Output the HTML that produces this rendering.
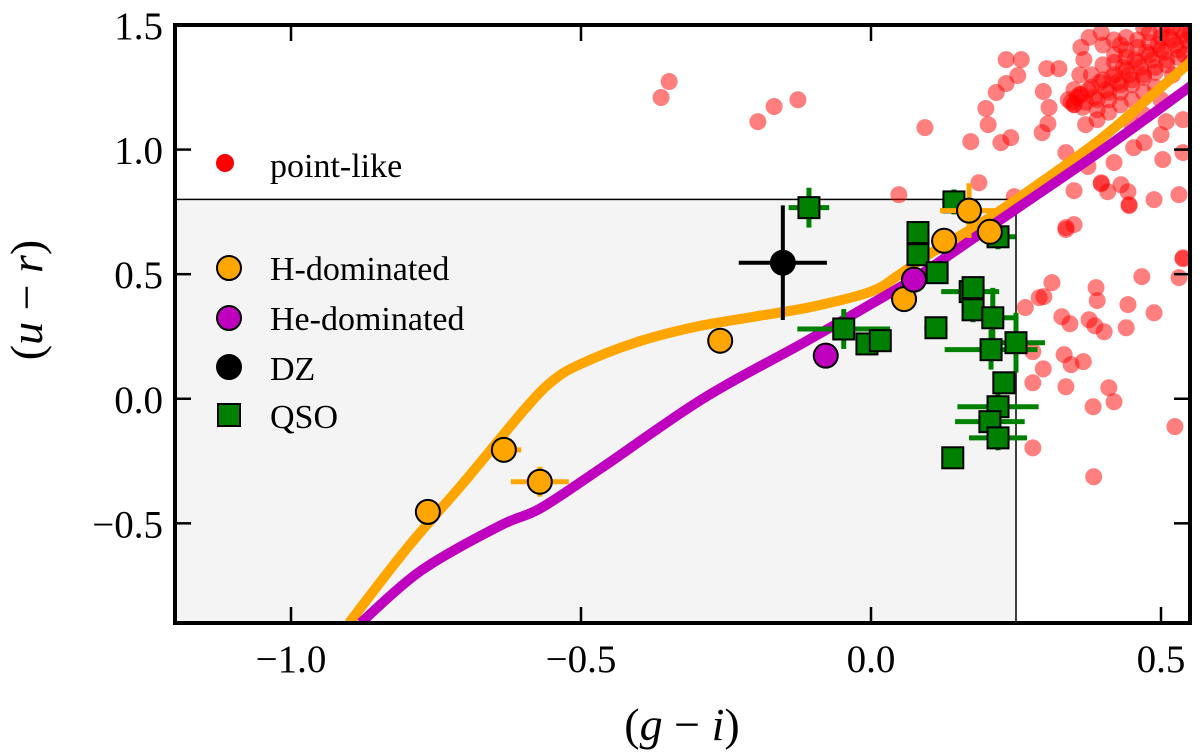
<!DOCTYPE html>
<html><head><meta charset="utf-8">
<style>
html,body{margin:0;padding:0;background:#fff;}
svg{display:block;}
text{font-family:"Liberation Serif","DejaVu Serif",serif;}
</style></head>
<body>
<svg id="chart" width="1200" height="754" viewBox="0 0 1200 754" xmlns="http://www.w3.org/2000/svg">
<defs><clipPath id="clip"><rect x="175" y="25" width="1015" height="598"/></clipPath></defs>
<g id="plot" clip-path="url(#clip)"></g>
<g id="axes"></g>
<g id="legend"></g>
</svg>
<script>
const xTicks=[-1.0,-0.5,0.0,0.5];
const xTickLabels=["\u22121.0","\u22120.5","0.0","0.5"];
const yTicks=[-0.5,0.0,0.5,1.0,1.5];
const yTickLabels=["\u22120.5","0.0","0.5","1.0","1.5"];
const hCurveX=[-0.9,-0.8,-0.7,-0.6,-0.55,-0.5,-0.4,-0.3,-0.2,-0.1,0.0,0.05,0.1,0.2,0.3,0.4,0.5,0.56];
const hCurveY=[-0.9,-0.6,-0.33,-0.05,0.07,0.14,0.23,0.29,0.33,0.37,0.43,0.5,0.58,0.72,0.88,1.05,1.25,1.37];
const heCurveX=[-0.88,-0.776,-0.64,-0.57,-0.466,-0.29,-0.12,0.0,0.086,0.224,0.4,0.56];
const heCurveY=[-0.9,-0.69,-0.51,-0.44,-0.28,0.0,0.22,0.38,0.5,0.72,1.0,1.27];
const pointLikeX=[0.35,0.397,0.408,0.431,0.443,0.445,0.488,0.531,0.336,0.35,0.538,0.467,0.531,0.312,0.298,0.29,0.388,0.39,0.443,0.488,0.266,0.329,0.343,0.376,0.386,0.402,0.44,0.279,0.333,0.345,0.366,0.297,0.279,0.336,0.41,0.419,0.383,0.524,0.279,0.384,
-0.348,-0.362,-0.195,-0.167,-0.126,0.093,0.048,0.172,0.186,0.198,0.202,0.216,0.224,0.241,0.233,0.259,0.233,0.253,0.247,0.295,0.297,0.303,0.324,0.307,0.305,0.336,0.336,0.374,0.397,0.419,0.445,0.453,0.471,0.503,0.5,0.509,0.538,0.538,0.538,0.362,0.35,0.376,0.397,0.362,0.419,0.367,
0.34,0.35,0.36,0.37,0.38,0.39,0.4,0.41,0.42,0.43,0.44,0.45,0.46,0.47,0.48,0.49,0.5,0.51,0.52,0.53,0.54,0.38,0.4,0.42,0.44,0.46,0.48,0.5,0.43,0.45,0.47,0.49,0.41,0.39,0.37,0.35,0.44,0.52,0.54,0.36,0.4,0.45,0.47,0.5,0.52,
0.345,0.355,0.365,0.375,0.385,0.395,0.405,0.415,0.425,0.435,0.445,0.455,0.465,0.475,0.485,0.495,0.505,0.515,0.525,0.535,0.545,0.39,0.41,0.43,0.45,0.47,0.49,0.51,0.53,0.42,0.44,0.46,0.48,0.5,0.43,0.47,0.51,0.55,0.55,0.55];
const pointLikeY=[0.835,0.863,0.831,0.859,0.831,0.775,0.799,0.819,0.679,0.699,0.562,0.49,0.486,0.466,0.41,0.406,0.446,0.394,0.378,0.345,0.366,0.329,0.301,0.317,0.293,0.269,0.285,0.189,0.177,0.137,0.149,0.12,0.064,0.048,0.044,-0.012,-0.032,-0.112,-0.197,-0.313,
1.273,1.209,1.112,1.173,1.2,1.088,0.819,1.032,0.867,1.165,1.1,1.229,1.028,1.048,1.361,1.361,1.265,1.297,0.811,1.068,1.233,1.325,1.325,1.169,1.104,0.988,0.687,0.932,0.867,0.948,0.779,1.008,1.028,0.96,1.06,1.112,1.12,0.988,0.566,1.221,1.181,1.45,1.47,1.41,1.44,1.361,
1.2,1.18,1.22,1.19,1.25,1.2,1.28,1.23,1.3,1.26,1.32,1.28,1.35,1.3,1.38,1.33,1.4,1.36,1.44,1.4,1.46,1.3,1.34,1.38,1.4,1.44,1.47,1.48,1.18,1.2,1.23,1.25,1.15,1.12,1.1,1.24,1.45,1.49,1.38,1.3,1.42,1.1,1.14,1.2,1.3,
1.19,1.21,1.17,1.24,1.21,1.27,1.24,1.29,1.27,1.33,1.3,1.36,1.33,1.39,1.36,1.42,1.39,1.45,1.42,1.48,1.44,1.16,1.2,1.23,1.26,1.29,1.31,1.34,1.37,1.35,1.37,1.41,1.43,1.45,1.42,1.49,1.5,1.47,1.42,1.35];
const qsoX=[-0.107,0.143,0.081,0.081,0.114,0.171,0.176,0.176,0.21,-0.047,-0.007,0.016,0.112,0.207,0.25,0.229,0.219,0.205,0.219,0.141,0.219];
const qsoY=[0.767,0.79,0.667,0.578,0.506,0.43,0.446,0.357,0.325,0.28,0.22,0.233,0.285,0.197,0.225,0.064,-0.032,-0.092,-0.157,-0.237,0.65];
const qsoXerr=[0.035,0.02,0.0,0.0,0.0,0.05,0.0,0.0,0.04,0.08,0.0,0.0,0.02,0.08,0.05,0.0,0.07,0.06,0.05,0.0,0.03];
const qsoYerr=[0.08,0.05,0.0,0.0,0.0,0.05,0.0,0.05,0.12,0.08,0.0,0.0,0.04,0.08,0.12,0.0,0.08,0.0,0.05,0.0,0.05];
const hX=[-0.764,-0.633,-0.571,-0.26,0.057,0.126,0.169,0.205];
const hY=[-0.454,-0.205,-0.333,0.233,0.40,0.634,0.755,0.67];
const hXerr=[0,0.03,0.05,0,0,0,0.05,0];
const hYerr=[0,0.03,0.06,0,0,0,0.11,0];
const heX=[-0.078,0.074];
const heY=[0.173,0.478];
const dzX=[-0.152];
const dzY=[0.546];
const dzXerr=[0.076];
const dzYerr=[0.23];

const NS="http://www.w3.org/2000/svg";
const X0=175,X1=1190,Y0=623,Y1=25,XMIN=-1.2,XMAX=0.55,YMIN=-0.9,YMAX=1.5;
const sx=v=>X0+(v-XMIN)/(XMAX-XMIN)*(X1-X0);
const sy=v=>Y0-(v-YMIN)/(YMAX-YMIN)*(Y0-Y1);
function mk(tag,attrs,parent){const e=document.createElementNS(NS,tag);for(const k in attrs)e.setAttribute(k,attrs[k]);parent.appendChild(e);return e;}
const plot=document.getElementById('plot'),axes=document.getElementById('axes');

let r=mk('rect',{x:X0,y:sy(0.8),width:sx(0.25)-X0,height:Y0-sy(0.8),fill:'#f4f4f4',stroke:'#000','stroke-width':1.5},plot);



for(let i=0;i<pointLikeX.length;i++){
 const c=mk('circle',{cx:sx(pointLikeX[i]),cy:sy(pointLikeY[i]),r:8.5,fill:'#ff0000','fill-opacity':0.5},plot);
 
 
}
function smoothPath(xs,ys){
 const P=xs.map((x,i)=>[sx(x),sy(ys[i])]);
 let d='M'+P[0][0]+','+P[0][1];
 for(let i=0;i<P.length-1;i++){
  const p0=P[Math.max(0,i-1)],p1=P[i],p2=P[i+1],p3=P[Math.min(P.length-1,i+2)];
  const c1=[p1[0]+(p2[0]-p0[0])/6,p1[1]+(p2[1]-p0[1])/6];
  const c2=[p2[0]-(p3[0]-p1[0])/6,p2[1]-(p3[1]-p1[1])/6];
  d+=' C'+c1[0]+','+c1[1]+' '+c2[0]+','+c2[1]+' '+p2[0]+','+p2[1];
 }
 return d;
}
function curve(xs,ys,color,name){
 const p=mk('path',{d:smoothPath(xs,ys),fill:'none',stroke:color,'stroke-width':10,'stroke-linejoin':'round'},plot);
 
 
}
curve(hCurveX,hCurveY,'#ffa500','h-dominated-track');
curve(heCurveX,heCurveY,'#bf00bf','he-dominated-track');
function errs(xs,ys,xe,ye,color,w,name){
 for(let i=0;i<xs.length;i++){
  if(xe[i]>0){const l=mk('line',{x1:sx(xs[i]-xe[i]),x2:sx(xs[i]+xe[i]),y1:sy(ys[i]),y2:sy(ys[i]),stroke:color,'stroke-width':w},plot);
   
   }
  if(ye[i]>0){const l=mk('line',{x1:sx(xs[i]),x2:sx(xs[i]),y1:sy(ys[i]-ye[i]),y2:sy(ys[i]+ye[i]),stroke:color,'stroke-width':w},plot);
   
   }
 }
}
errs(qsoX,qsoY,qsoXerr,qsoYerr,'#008000',5,'qso-error-bar');
for(let i=0;i<qsoX.length;i++){
 const s=mk('rect',{x:sx(qsoX[i])-10.5,y:sy(qsoY[i])-10.5,width:21,height:21,fill:'#008000',stroke:'#000','stroke-width':2},plot);
 
 
}
errs(hX,hY,hXerr,hYerr,'#ffa500',5,'h-dominated-error-bar');
for(let i=0;i<hX.length;i++){
 const c=mk('circle',{cx:sx(hX[i]),cy:sy(hY[i]),r:12,fill:'#ffa500',stroke:'#000','stroke-width':2},plot);
 
 
}
for(let i=0;i<heX.length;i++){
 const c=mk('circle',{cx:sx(heX[i]),cy:sy(heY[i]),r:12,fill:'#bf00bf',stroke:'#000','stroke-width':2},plot);
 
 
}
errs(dzX,dzY,dzXerr,dzYerr,'#000',4,'dz-error-bar');
for(let i=0;i<dzX.length;i++){
 const c=mk('circle',{cx:sx(dzX[i]),cy:sy(dzY[i]),r:13,fill:'#000'},plot);
 
 
}

const fr=mk('rect',{x:X0,y:Y1,width:X1-X0,height:Y0-Y1,fill:'none',stroke:'#000','stroke-width':4},axes);


xTicks.forEach((v,i)=>{
 const x=sx(v);
 const t=mk('line',{x1:x,x2:x,y1:Y0,y2:Y0-16,stroke:'#000','stroke-width':2.5},axes);
 
 
 const tt=mk('line',{x1:x,x2:x,y1:Y1,y2:Y1+16,stroke:'#000','stroke-width':2.5},axes);
 
 
 const l=mk('text',{x:x,y:672,'font-size':39,'text-anchor':'middle'},axes);l.textContent=xTickLabels[i];
 
 
});
yTicks.forEach((v,i)=>{
 const y=sy(v);
 const t=mk('line',{x1:X0,x2:X0+16,y1:y,y2:y,stroke:'#000','stroke-width':2.5},axes);
 
 
 const tr=mk('line',{x1:X1,x2:X1-16,y1:y,y2:y,stroke:'#000','stroke-width':2.5},axes);
 
 
 const l=mk('text',{x:163,y:y+14,'font-size':39,'text-anchor':'end'},axes);l.textContent=yTickLabels[i];
 
 
});
</script>
<svg style="position:absolute;left:0;top:0" width="1200" height="754">
<text x="682" y="740" font-size="46" text-anchor="middle" font-family="Liberation Serif, serif">(<tspan font-style="italic">g</tspan> − <tspan font-style="italic">i</tspan>)</text>
<text transform="translate(42,300) rotate(-90)" font-size="46" text-anchor="middle" font-family="Liberation Serif, serif">(<tspan font-style="italic">u</tspan> − <tspan font-style="italic">r</tspan>)</text>
<g>
<circle cx="225" cy="163" r="9" fill="#ff0000"/>
<text x="270" y="177" font-size="34" font-family="Liberation Serif, serif">point-like</text>
</g>
<g>
<circle cx="229" cy="268" r="12" fill="#ffa500" stroke="#000" stroke-width="2"/>
<text x="270" y="280" font-size="34" font-family="Liberation Serif, serif">H-dominated</text>
</g>
<g>
<circle cx="229" cy="318" r="12" fill="#bf00bf" stroke="#000" stroke-width="2"/>
<text x="270" y="330" font-size="34" font-family="Liberation Serif, serif">He-dominated</text>
</g>
<g>
<circle cx="229" cy="367" r="12" fill="#000" stroke="#000" stroke-width="2"/>
<text x="270" y="380" font-size="34" font-family="Liberation Serif, serif">DZ</text>
</g>
<g>
<rect x="218" y="404" width="22" height="22" fill="#008000" stroke="#000" stroke-width="2"/>
<text x="270" y="428" font-size="34" font-family="Liberation Serif, serif">QSO</text>
</g>
</svg>
</body></html>
